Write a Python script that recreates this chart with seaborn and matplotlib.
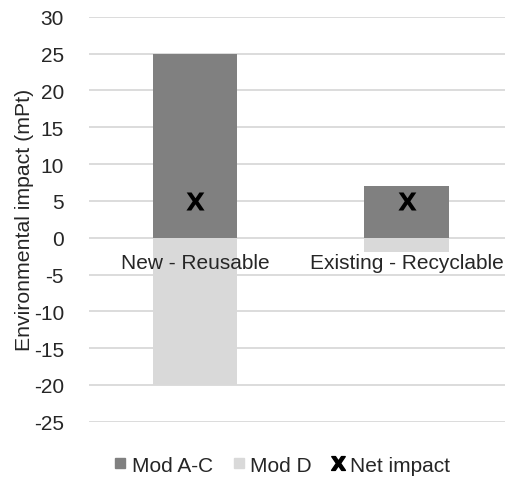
import matplotlib
matplotlib.use("Agg")
import matplotlib.pyplot as plt
from matplotlib.lines import Line2D
import seaborn as sns
import pandas as pd

categories = ["New - Reusable", "Existing - Recyclable"]
mod_ac = [25, 7]
mod_d = [-20, -2]
net_impact = [5, 5]
series_names = ["Mod A-C", "Mod D"]
colors = {"Mod A-C": "#808080", "Mod D": "#d9d9d9"}

sns.set_style("white")
plt.rcParams["font.family"] = ["Liberation Sans", "DejaVu Sans"]
plt.rcParams["axes.unicode_minus"] = False

df = pd.DataFrame({
    "category": categories * 2,
    "series": [series_names[0]] * 2 + [series_names[1]] * 2,
    "value": mod_ac + mod_d,
})

fig = plt.figure(figsize=(5.06, 4.81), dpi=100)
ax = fig.add_axes([0.176, 0.121, 0.824, 0.842])

sns.barplot(data=df, x="category", y="value", hue="series", palette=colors,
            dodge=False, width=0.4, order=categories, hue_order=series_names,
            legend=False, ax=ax, zorder=3, linewidth=0)

net_df = pd.DataFrame({"category": categories, "net": net_impact})
sns.scatterplot(data=net_df, x="category", y="net", marker=r"$\mathbf{X}$",
                s=170, color="black", linewidth=0, ax=ax, zorder=4)

ax.set_ylim(-25, 30)
ax.set_xlim(-0.5, 1.47)
ax.set_yticks(range(-25, 31, 5))
ax.yaxis.grid(True, color="#d9d9d9", linewidth=1.3, zorder=0)
ax.set_axisbelow(True)
for s in ax.spines.values():
    s.set_visible(False)
ax.tick_params(axis="y", labelsize=15, colors="#262626", length=0, pad=18)
ax.set_xticks([])
ax.set_xlabel("")
ax.set_ylabel("Environmental impact (mPt)", fontsize=15.3, color="#262626", labelpad=0)

for i, c in enumerate(categories):
    ax.text(i, -3.4, c, ha="center", va="center", fontsize=15, color="#262626", zorder=5)

handles = [
    Line2D([], [], marker="s", linestyle="", markersize=6.5, color=colors["Mod A-C"]),
    Line2D([], [], marker="s", linestyle="", markersize=6.5, color=colors["Mod D"]),
    Line2D([], [], marker=r"$\mathbf{X}$", linestyle="", markersize=10, color="black"),
]
fig.legend(handles, ["Mod A-C", "Mod D", "Net impact"], loc="center",
           bbox_to_anchor=(0.558, 0.031), ncol=3, frameon=False, fontsize=15,
           handlelength=0.5, handletextpad=0.3, columnspacing=1.0,
           labelcolor="#262626")

fig.savefig("out.png", dpi=100)
